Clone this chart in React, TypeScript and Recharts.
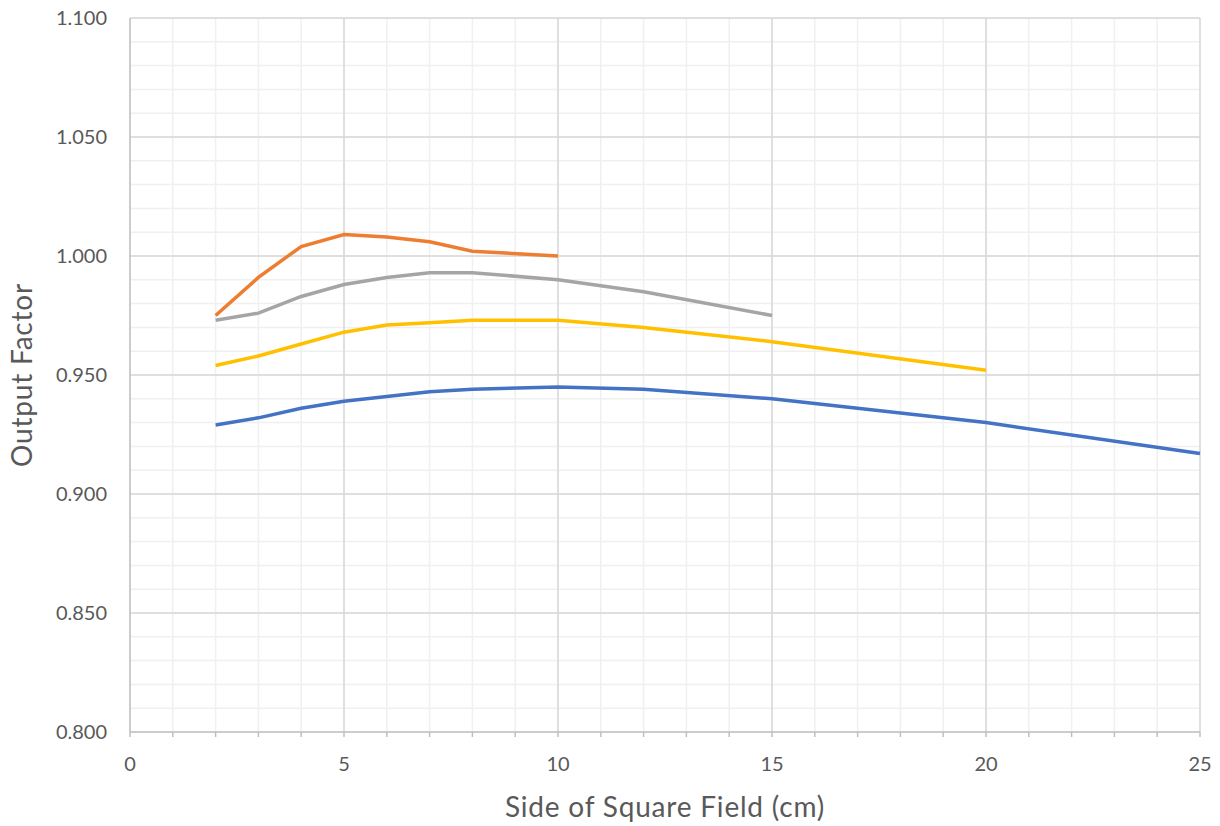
import React from 'react';
import { LineChart, Line, XAxis, YAxis, CartesianGrid, ReferenceLine } from 'recharts';

const fieldSizes = [2, 3, 4, 5, 6, 7, 8, 10, 12, 15, 20, 25];
const seriesBlue = [0.929, 0.932, 0.936, 0.939, 0.941, 0.943, 0.944, 0.945, 0.944, 0.940, 0.930, 0.917];
const seriesOrange = [0.975, 0.991, 1.004, 1.009, 1.008, 1.006, 1.002, 1.000];
const seriesGray = [0.973, 0.976, 0.983, 0.988, 0.991, 0.993, 0.993, 0.990, 0.985, 0.975];
const seriesYellow = [0.954, 0.958, 0.963, 0.968, 0.971, 0.972, 0.973, 0.973, 0.970, 0.964, 0.952];

const xMajorTicks = [5, 10, 15, 20, 25];
const yMajorTicks = [0.85, 0.9, 0.95, 1.0, 1.05, 1.1];
const xMinorTicks = Array.from({ length: 26 }, (_, i) => i);
const yMinorTicks = Array.from({ length: 31 }, (_, i) => Math.round((0.8 + i * 0.01) * 100) / 100);

const toPoints = (vals: number[]) => vals.map((v, i) => ({ x: fieldSizes[i], y: v }));

const FONT = 'Lato, "Open Sans", sans-serif';
const TEXT = '#595959';

export default function App() {
  return (
    <div style={{ position: 'absolute', left: 0, top: 0, width: 1220, height: 826, background: '#fff' }}>
      <LineChart width={1220} height={826} margin={{ top: 18, right: 20, bottom: 0, left: 0 }}>
        <CartesianGrid stroke="#f0f0f0" strokeWidth={1.5} />
        {xMajorTicks.map((t) => (
          <ReferenceLine key={'vx' + t} x={t} stroke="#d9d9d9" strokeWidth={1.5} />
        ))}
        {yMajorTicks.map((t) => (
          <ReferenceLine key={'hy' + t} y={t} stroke="#d9d9d9" strokeWidth={1.5} />
        ))}
        <XAxis
          dataKey="x"
          type="number"
          domain={[0, 25]}
          ticks={xMinorTicks}
          interval={0}
          allowDuplicatedCategory={false}
          tickFormatter={(v: number) => (v % 5 === 0 ? String(v) : '')}
          height={94}
          tickSize={5}
          tickMargin={20}
          stroke="#bfbfbf"
          axisLine={{ stroke: '#bfbfbf', strokeWidth: 1.5 }}
          tickLine={{ stroke: '#bfbfbf', strokeWidth: 1.5 }}
          tick={{ fill: TEXT, fontSize: 20, fontFamily: FONT }}
          label={{
            value: 'Side of Square Field (cm)',
            position: 'insideBottom',
            offset: 9,
            style: { fill: TEXT, fontSize: 28, fontFamily: FONT, textAnchor: 'middle', letterSpacing: 0.8 },
          }}
        />
        <YAxis
          type="number"
          domain={[0.8, 1.1]}
          ticks={yMinorTicks}
          interval={0}
          tickFormatter={(v: number) => (Math.round(v * 100) % 5 === 0 ? v.toFixed(3) : '')}
          width={130}
          tickSize={0}
          tickMargin={23}
          tickLine={false}
          axisLine={{ stroke: '#bfbfbf', strokeWidth: 1.5 }}
          tick={{ fill: TEXT, fontSize: 20, fontFamily: FONT }}
          label={{
            value: 'Output Factor',
            angle: -90,
            position: 'insideLeft',
            offset: 22,
            style: { fill: TEXT, fontSize: 28, fontFamily: FONT, textAnchor: 'middle', letterSpacing: 0.8 },
          }}
        />
        <Line data={toPoints(seriesBlue)} dataKey="y" stroke="#4472C4" strokeWidth={3.5} dot={false} isAnimationActive={false} type="linear" />
        <Line data={toPoints(seriesYellow)} dataKey="y" stroke="#FFC000" strokeWidth={3.5} dot={false} isAnimationActive={false} type="linear" />
        <Line data={toPoints(seriesGray)} dataKey="y" stroke="#A5A5A5" strokeWidth={3.5} dot={false} isAnimationActive={false} type="linear" />
        <Line data={toPoints(seriesOrange)} dataKey="y" stroke="#ED7D31" strokeWidth={3.5} dot={false} isAnimationActive={false} type="linear" />
      </LineChart>
    </div>
  );
}
